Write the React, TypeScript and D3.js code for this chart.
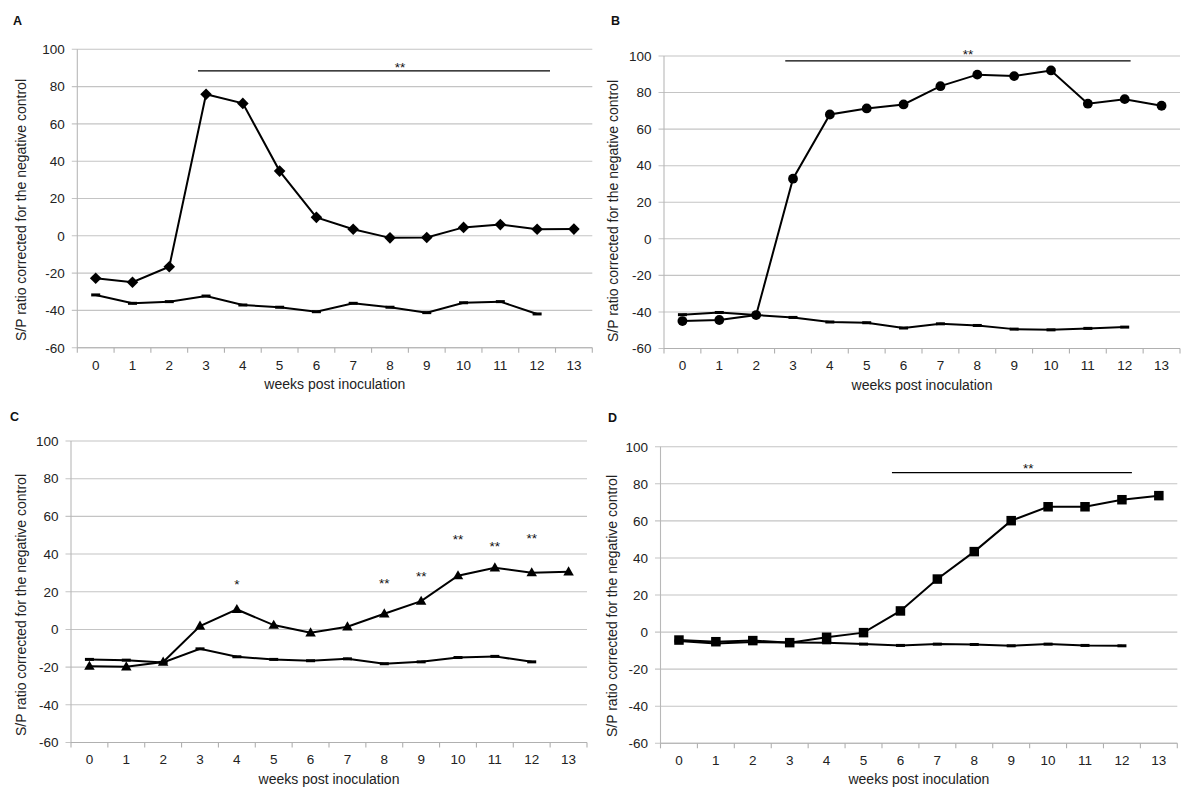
import React from 'react';
import * as d3 from 'd3';

// ---------- data ----------
const weeks = [0, 1, 2, 3, 4, 5, 6, 7, 8, 9, 10, 11, 12, 13];
const controlWeeks = [0, 1, 2, 3, 4, 5, 6, 7, 8, 9, 10, 11, 12];
const yTicks = [-60, -40, -20, 0, 20, 40, 60, 80, 100];

const seriesA = [-22.8, -24.9, -16.6, 75.9, 71.0, 34.7, 9.9, 3.5, -1.1, -0.9, 4.5, 6.0, 3.5, 3.6];
const controlA = [-31.7, -36.2, -35.3, -32.3, -37.1, -38.3, -40.7, -36.2, -38.3, -41.2, -35.9, -35.3, -41.9];

const seriesB = [-45.0, -44.4, -41.7, 32.9, 68.0, 71.3, 73.5, 83.5, 89.8, 89.0, 92.1, 73.9, 76.4, 72.8];
const controlB = [-41.5, -40.3, -41.7, -43.0, -45.5, -45.9, -48.8, -46.5, -47.4, -49.4, -49.8, -49.0, -48.3];

const seriesC = [-19.5, -19.8, -17.3, 1.8, 10.6, 2.3, -1.8, 1.4, 8.3, 15.0, 28.5, 32.7, 30.1, 30.6];
const controlC = [-15.9, -16.3, -17.5, -10.3, -14.5, -15.9, -16.6, -15.6, -18.2, -17.2, -14.9, -14.3, -17.2];

const seriesD = [-4.3, -5.2, -4.6, -5.7, -2.8, -0.3, 11.4, 28.6, 43.4, 60.1, 67.6, 67.6, 71.4, 73.6];
const controlD = [-4.8, -6.1, -5.4, -5.6, -5.8, -6.5, -7.2, -6.5, -6.7, -7.4, -6.5, -7.2, -7.4];

// significance bars: [start week, end week, value]
const sigLineA = [2.78, 12.35, 88.4];
const sigLineB = [2.79, 12.16, 97.3];
const sigLineD = [5.77, 12.27, 86.0];
// significance marks: week, value (glyph centre), label
const sigWeeksA = [8.27];
const sigValuesA = [91.6];
const sigLabelsA = ['**'];
const sigWeeksB = [7.75];
const sigValuesB = [102.2];
const sigLabelsB = ['**'];
const sigWeeksC = [4, 8, 9, 10, 11, 12];
const sigValuesC = [25.3, 26.2, 29.7, 49.2, 45.7, 49.7];
const sigLabelsC = ['*', '**', '**', '**', '**', '**'];
const sigWeeksD = [9.46];
const sigValuesD = [90.1];
const sigLabelsD = ['**'];

const panelLabels = ['A', 'B', 'C', 'D'];
const xTitle = 'weeks post inoculation';
const yTitle = 'S/P ratio corrected for the negative control';

const FONT = '"Liberation Sans", Arial, Helvetica, sans-serif';

type Box = {
  x0: number; x1: number; yTop: number; yBot: number;
  lx: number; ly: number; tx: number; ty: number;
};

function Marker({ kind, x, y }: { kind: string; x: number; y: number }) {
  if (kind === 'diamond') {
    const r = 5.8;
    return <path d={`M${x},${y - r}L${x + r},${y}L${x},${y + r}L${x - r},${y}Z`} fill="#000" />;
  }
  if (kind === 'circle') return <circle cx={x} cy={y} r={4.9} fill="#000" />;
  if (kind === 'triangle') {
    const s = 10.5;
    const h = s * 0.866;
    return <path d={`M${x},${y - h * 0.6}L${x + s / 2},${y + h * 0.4}L${x - s / 2},${y + h * 0.4}Z`} fill="#000" />;
  }
  if (kind === 'square') {
    const s = 9.5;
    return <rect x={x - s / 2} y={y - s / 2} width={s} height={s} fill="#000" />;
  }
  // dash
  return <rect x={x - 4.5} y={y - 1.5} width={9} height={3} fill="#000" />;
}

function Panel({
  label, box, series, control, marker, sigLine, sigWeeks, sigValues, sigLabels,
}: {
  label: string; box: Box; series: number[]; control: number[]; marker: string;
  sigLine: number[] | null; sigWeeks: number[]; sigValues: number[]; sigLabels: string[];
}) {
  const { x0, x1, yTop, yBot } = box;
  const x = d3.scaleLinear().domain([-0.5, 13.5]).range([x0, x1]);
  const y = d3.scaleLinear().domain([-60, 100]).range([yBot, yTop]);
  const band = (x1 - x0) / weeks.length;
  const line = d3.line<[number, number]>().x((d) => x(d[0])).y((d) => y(d[1]));
  const mainPts: [number, number][] = weeks.map((w, i) => [w, series[i]]);
  const ctrlPts: [number, number][] = controlWeeks.map((w, i) => [w, control[i]]);
  const boundaries = d3.range(weeks.length + 1).map((k) => x0 + k * band);

  return (
    <g fontFamily={FONT}>
      <text x={box.lx} y={box.ly} fontSize={12.5} fontWeight="bold" fill="#111">{label}</text>
      {yTicks.map((t) => (
        <line key={'g' + t} x1={x0 - 5.5} x2={x1} y1={y(t)} y2={y(t)} stroke="#c4c4c4" strokeWidth={1.1} />
      ))}
      <line x1={x0} x2={x0} y1={yTop} y2={yBot} stroke="#b8b8b8" strokeWidth={1.1} />
      <line x1={x0} x2={x1} y1={yBot} y2={yBot} stroke="#b0b0b0" strokeWidth={1.1} />
      {boundaries.map((bx, k) => (
        <line key={'t' + k} x1={bx} x2={bx} y1={yBot} y2={yBot + 5} stroke="#b0b0b0" strokeWidth={1.1} />
      ))}
      {yTicks.map((t) => (
        <text key={'yl' + t} x={x0 - 12.5} y={y(t) + 4.8} textAnchor="end" fontSize={13.5} fill="#222">{t}</text>
      ))}
      {weeks.map((w) => (
        <text key={'xl' + w} x={x(w)} y={yBot + 21.8} textAnchor="middle" fontSize={13.5} fill="#222">{w}</text>
      ))}
      <text x={(x0 + x1) / 2} y={yBot + 41} textAnchor="middle" fontSize={14} fill="#222">{xTitle}</text>
      <text
        transform={`translate(${box.tx},${box.ty}) rotate(-90)`}
        textAnchor="middle"
        dominantBaseline="central"
        fontSize={14}
        fill="#222"
      >{yTitle}</text>

      <path d={line(ctrlPts) || ''} fill="none" stroke="#000" strokeWidth={2} />
      {ctrlPts.map((p, i) => <Marker key={'c' + i} kind="dash" x={x(p[0])} y={y(p[1])} />)}
      <path d={line(mainPts) || ''} fill="none" stroke="#000" strokeWidth={2} />
      {mainPts.map((p, i) => <Marker key={'m' + i} kind={marker} x={x(p[0])} y={y(p[1])} />)}

      {sigLine && (
        <line x1={x(sigLine[0])} x2={x(sigLine[1])} y1={y(sigLine[2])} y2={y(sigLine[2])} stroke="#000" strokeWidth={1.2} />
      )}
      {sigWeeks.map((w, i) => (
        <text key={'s' + i} x={x(w)} y={y(sigValues[i]) + 7.5} textAnchor="middle" fontSize={13.5} fill="#111">{sigLabels[i]}</text>
      ))}
    </g>
  );
}

const boxA: Box = { x0: 77.3, x1: 592.3, yTop: 49.3, yBot: 347.7, lx: 13, ly: 25, tx: 21, ty: 210 };
const boxB: Box = { x0: 664, x1: 1180, yTop: 56, yBot: 348.5, lx: 611, ly: 25, tx: 613, ty: 211 };
const boxC: Box = { x0: 71, x1: 587, yTop: 441, yBot: 742.5, lx: 10, ly: 421, tx: 21, ty: 605 };
const boxD: Box = { x0: 660.5, x1: 1177.3, yTop: 446.7, yBot: 743.3, lx: 608, ly: 422, tx: 611.5, ty: 606 };

export default function App() {
  return (
    <svg
      width={1200}
      height={807}
      viewBox="0 0 1200 807"
      style={{ position: 'absolute', left: 0, top: 0, background: '#fff' }}
    >
      <rect width={1200} height={807} fill="#fff" />
      <Panel label={panelLabels[0]} box={boxA} series={seriesA} control={controlA} marker="diamond"
        sigLine={sigLineA} sigWeeks={sigWeeksA} sigValues={sigValuesA} sigLabels={sigLabelsA} />
      <Panel label={panelLabels[1]} box={boxB} series={seriesB} control={controlB} marker="circle"
        sigLine={sigLineB} sigWeeks={sigWeeksB} sigValues={sigValuesB} sigLabels={sigLabelsB} />
      <Panel label={panelLabels[2]} box={boxC} series={seriesC} control={controlC} marker="triangle"
        sigLine={null} sigWeeks={sigWeeksC} sigValues={sigValuesC} sigLabels={sigLabelsC} />
      <Panel label={panelLabels[3]} box={boxD} series={seriesD} control={controlD} marker="square"
        sigLine={sigLineD} sigWeeks={sigWeeksD} sigValues={sigValuesD} sigLabels={sigLabelsD} />
    </svg>
  );
}
